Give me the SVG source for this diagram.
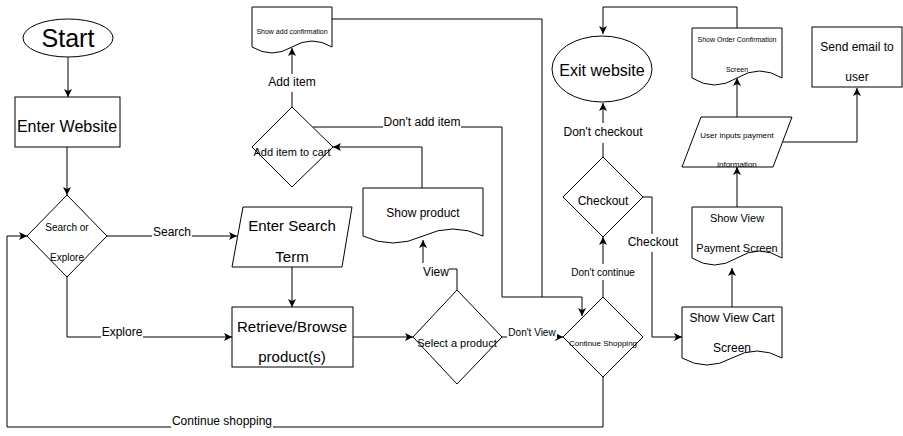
<svg xmlns="http://www.w3.org/2000/svg" width="903" height="436" viewBox="0 0 903 436">
<style>
  .shape { fill: #fff; stroke: #000; stroke-width: 1; }
  .edge { fill: none; stroke: #000; stroke-width: 1; }
  .t { font-family: "Liberation Sans", Arial, sans-serif; fill: #000; text-anchor: middle; }
  .bg { fill: #fff; stroke: none; }
</style>
<defs>
  <marker id="arr" markerUnits="userSpaceOnUse" markerWidth="10" markerHeight="10" refX="8" refY="4" orient="auto">
    <path d="M0,0 L8,4 L0,8 L2,4 Z" fill="#000"/>
  </marker>
</defs>
<rect width="903" height="436" fill="#fff"/>

<g id="connectors">
  <path class="edge" d="M68,57 V97" marker-end="url(#arr)"/>
  <path class="edge" d="M67,147 V195" marker-end="url(#arr)"/>
  <path class="edge" d="M107,236 H237" marker-end="url(#arr)"/>
  <path class="edge" d="M67,277 V337 H232" marker-end="url(#arr)"/>
  <path class="edge" d="M292,267 V307" marker-end="url(#arr)"/>
  <path class="edge" d="M353,337 H413" marker-end="url(#arr)"/>
  <path class="edge" d="M502,337 H563" marker-end="url(#arr)"/>
  <path class="edge" d="M457,290 V269 H423 V240" marker-end="url(#arr)"/>
  <path class="edge" d="M422,188 V147 H333" marker-end="url(#arr)"/>
  <path class="edge" d="M313,127 H502 V297 H582 V316" marker-end="url(#arr)"/>
  <path class="edge" d="M292,107 V48" marker-end="url(#arr)"/>
  <path class="edge" d="M332,19 H542 V297"/>
  <path class="edge" d="M603,297 V237" marker-end="url(#arr)"/>
  <path class="edge" d="M603,157 V103" marker-end="url(#arr)"/>
  <path class="edge" d="M643,197 H652 V337 H682" marker-end="url(#arr)"/>
  <path class="edge" d="M603,377 V427 H7 V236 H27" marker-end="url(#arr)"/>
  <path class="edge" d="M732,307 V268" marker-end="url(#arr)"/>
  <path class="edge" d="M737,207 V167" marker-end="url(#arr)"/>
  <path class="edge" d="M737,117 V78" marker-end="url(#arr)"/>
  <path class="edge" d="M783,142 H857 V88" marker-end="url(#arr)"/>
  <path class="edge" d="M737,28 V7 H603 V34" marker-end="url(#arr)"/>

  <g id="edge-labels">
    <rect class="bg" x="152" y="226" width="40" height="14"/>
    <text class="t" x="172" y="236" font-size="12">Search</text>
    <rect class="bg" x="101" y="326" width="42" height="14"/>
    <text class="t" x="122" y="336" font-size="12">Explore</text>
    <rect class="bg" x="171" y="415" width="102" height="14"/>
    <text class="t" x="222" y="425" font-size="12">Continue shopping</text>
    <rect class="bg" x="422" y="263" width="27" height="16"/>
    <text class="t" x="436" y="276" font-size="12">View</text>
    <rect class="bg" x="507" y="327" width="50" height="12"/>
    <text class="t" x="532" y="336" font-size="10">Don't View</text>
    <rect class="bg" x="383" y="116" width="78" height="14"/>
    <text class="t" x="422" y="126" font-size="12">Don't add item</text>
    <rect class="bg" x="264" y="74" width="56" height="18"/>
    <text class="t" x="292" y="86" font-size="12">Add item</text>
    <rect class="bg" x="570" y="264" width="66" height="16"/>
    <text class="t" x="603" y="276" font-size="10">Don't continue</text>
    <rect class="bg" x="562" y="123" width="82" height="20"/>
    <text class="t" x="603" y="136" font-size="12">Don't checkout</text>
    <rect class="bg" x="626" y="234" width="54" height="18"/>
    <text class="t" x="653" y="246" font-size="12">Checkout</text>
  </g>
</g>

<g id="start">
  <ellipse class="shape" cx="68" cy="38" rx="45" ry="19"/>
  <text class="t" x="68" y="47" font-size="25">Start</text>
</g>

<g id="enter-website">
  <rect class="shape" x="15" y="97" width="105" height="50"/>
  <text class="t" x="67" y="132" font-size="16">Enter Website</text>
</g>

<g id="search-or-explore">
  <polygon class="shape" points="67,195 107,236 67,277 27,236"/>
  <text class="t" x="67" y="231" font-size="10">Search or</text>
  <text class="t" x="67" y="261" font-size="10">Explore</text>
</g>

<g id="enter-search-term">
  <polygon class="shape" points="243,207 352,207 342,267 232,267"/>
  <text class="t" x="292" y="231" font-size="15">Enter Search</text>
  <text class="t" x="292" y="262" font-size="15">Term</text>
</g>

<g id="retrieve-browse">
  <rect class="shape" x="232" y="307" width="121" height="60"/>
  <text class="t" x="292" y="332" font-size="15">Retrieve/Browse</text>
  <text class="t" x="292" y="362" font-size="15">product(s)</text>
</g>

<g id="select-product">
  <polygon class="shape" points="457,290 502,337 457,384 413,337"/>
  <text class="t" x="457" y="347" font-size="11">Select a product</text>
</g>

<g id="show-product">
  <path class="shape" d="M363,188 H483 V236 Q453,222 423,236 Q393,250 363,236 Z"/>
  <text class="t" x="423" y="217" font-size="12">Show product</text>
</g>

<g id="add-item-to-cart">
  <polygon class="shape" points="292,107 333,147 292,187 252,147"/>
  <text class="t" x="292" y="156" font-size="11">Add item to cart</text>
</g>

<g id="show-add-confirmation">
  <path class="shape" d="M252,7 H332 V47 Q312,35 292,47 Q272,59 252,47 Z"/>
  <text class="t" x="292" y="34" font-size="7">Show add confirmation</text>
</g>

<g id="continue-shopping">
  <polygon class="shape" points="603,297 643,337 603,377 563,337"/>
  <text class="t" x="603" y="346" font-size="8">Continue Shopping</text>
</g>

<g id="checkout">
  <polygon class="shape" points="603,157 643,197 603,237 563,197"/>
  <text class="t" x="603" y="205" font-size="12">Checkout</text>
</g>

<g id="exit-website">
  <ellipse class="shape" cx="602" cy="69" rx="50" ry="33"/>
  <text class="t" x="602" y="76" font-size="16">Exit website</text>
</g>

<g id="show-view-cart">
  <path class="shape" d="M682,307 H782 V358 Q757,344 732,358 Q707,372 682,358 Z"/>
  <text class="t" x="732" y="322" font-size="12">Show View Cart</text>
  <text class="t" x="732" y="352" font-size="12">Screen</text>
</g>

<g id="show-view-payment">
  <path class="shape" d="M692,207 H782 V258 Q759.5,244 737,258 Q714.5,272 692,258 Z"/>
  <text class="t" x="737" y="222" font-size="11">Show View</text>
  <text class="t" x="737" y="252" font-size="11">Payment Screen</text>
</g>

<g id="user-inputs-payment">
  <polygon class="shape" points="701,117 792,117 773,167 682,167"/>
  <text class="t" x="737" y="138" font-size="8">User inputs payment</text>
  <text class="t" x="737" y="167" font-size="8">information</text>
</g>

<g id="show-order-confirmation">
  <path class="shape" d="M692,28 H782 V78 Q759.5,64 737,78 Q714.5,92 692,78 Z"/>
  <text class="t" x="737" y="42" font-size="7">Show Order Confirmation</text>
  <text class="t" x="737" y="72" font-size="7">Screen</text>
</g>

<g id="send-email">
  <rect class="shape" x="812" y="27" width="90" height="60"/>
  <text class="t" x="857" y="51" font-size="12">Send email to</text>
  <text class="t" x="857" y="81" font-size="12">user</text>
</g>
</svg>
